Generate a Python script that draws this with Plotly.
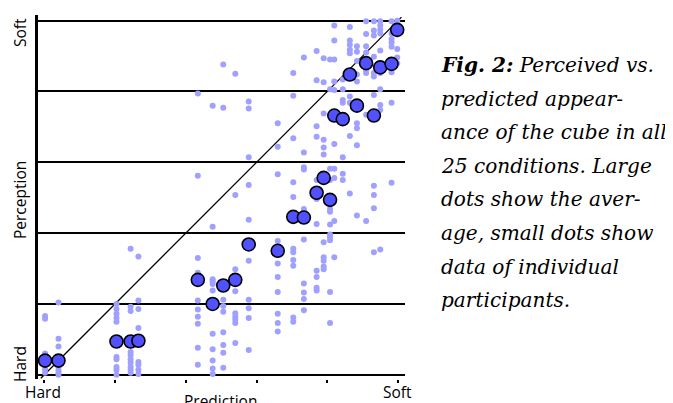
import plotly.graph_objects as go

# Predicted appearance (x) of each of the 25 conditions, 0 = Hard, 5 = Soft
prediction = [0.01, 0.20, 1.02, 1.22, 1.33, 2.17, 2.38, 2.53, 2.70, 2.89,
              3.30, 3.52, 3.67, 3.85, 3.95, 4.04, 4.10, 4.22, 4.32, 4.42,
              4.55, 4.66, 4.75, 4.91, 4.99]

# Average perceived appearance per condition
perception_mean = [0.20, 0.20, 0.47, 0.47, 0.48, 1.34, 1.00, 1.26, 1.34, 1.84,
                   1.75, 2.23, 2.22, 2.57, 2.78, 2.47, 3.66, 3.61, 4.24, 3.80,
                   4.40, 3.66, 4.34, 4.39, 4.87]

# Individual participants' perceived appearance per condition
individual = [
    [0.83, 0.79, 0.30, 0.08, 0.03],
    [1.02, 0.51, 0.40, 0.17, 0.11, 0.06, 0.03, 0.00],
    [1.00, 0.93, 0.86, 0.80, 0.75, 0.25, 0.22, 0.11, 0.07, 0.00],
    [1.78, 0.96, 0.90, 0.32, 0.28, 0.22, 0.17, 0.11, 0.07, 0.03],
    [1.67, 1.05, 0.93, 0.66, 0.18, 0.14, 0.07, 0.01],
    [3.97, 2.81, 1.65, 1.44, 1.05, 0.92, 0.82, 0.72, 0.38, 0.14],
    [3.80, 2.09, 1.35, 1.32, 1.28, 1.19, 0.58, 0.36, 0.20, 0.09, 0.01],
    [4.38, 3.77, 1.06, 0.97, 0.89, 0.60, 0.42, 0.31, 0.10],
    [4.25, 2.54, 1.49, 1.18, 0.87, 0.82, 0.78, 0.73, 0.45],
    [3.86, 3.76, 3.07, 2.68, 2.19, 1.61, 1.06, 0.94, 0.80, 0.35],
    [3.55, 3.22, 2.83, 1.89, 1.57, 1.38, 1.17, 0.86, 0.73, 0.61],
    [4.26, 3.94, 3.34, 2.72, 2.51, 1.78, 1.73, 1.62, 1.54, 0.81, 0.75],
    [4.48, 3.14, 2.93, 2.90, 2.34, 2.30, 1.91, 1.29, 1.16, 1.07, 0.91],
    [4.57, 4.16, 3.51, 3.36, 2.75, 2.48, 2.13, 1.47, 1.38, 1.23, 1.19],
    [4.47, 4.13, 3.69, 3.32, 3.21, 3.11, 1.87, 1.66, 1.61, 1.53, 1.49],
    [4.45, 4.03, 2.91, 2.75, 2.34, 2.30, 2.12, 1.98, 1.94, 1.90, 1.17, 0.73],
    [4.93, 4.72, 4.45, 4.14, 4.02, 3.26, 2.91, 2.78, 2.17, 1.66],
    [4.17, 4.03, 3.88, 3.84, 3.07, 2.84, 2.75],
    [4.91, 4.72, 4.66, 4.59, 4.54, 3.93, 3.84, 3.37, 2.56],
    [4.64, 4.56, 4.43, 4.24, 4.14, 3.55, 3.48, 3.24, 2.25],
    [4.99, 4.81, 4.64, 4.55, 4.30, 4.26, 3.67, 2.17],
    [4.99, 4.86, 4.79, 4.49, 4.26, 4.21, 3.95, 2.67, 2.54, 2.35, 1.73],
    [4.99, 4.93, 4.87, 4.82, 4.58, 4.30, 4.26, 4.03, 3.81, 3.74, 1.77],
    [4.99, 4.82, 4.74, 4.69, 4.63, 4.27, 3.84, 2.71],
    [5.00, 4.60, 4.48, 4.40],
]

diagonal = [-0.05, 5.05]
grid_levels = [0, 1, 2, 3, 4, 5]

caption_lines = [
    "<b><i>Fig. 2:</i></b><i> Perceived vs.</i>",
    "<i>predicted appear-</i>",
    "<i>ance of the cube in all</i>",
    "<i>25 conditions. Large</i>",
    "<i>dots show the aver-</i>",
    "<i>age, small dots show</i>",
    "<i>data of individual</i>",
    "<i>participants.</i>",
]

ind_x, ind_y = [], []
for xv, ys in zip(prediction, individual):
    for yv in ys:
        ind_x.append(xv)
        ind_y.append(yv)

fig = go.Figure()
fig.add_trace(go.Scatter(x=diagonal, y=diagonal, mode="lines",
                         line=dict(color="black", width=1.3),
                         hoverinfo="skip", showlegend=False))
fig.add_trace(go.Scatter(x=ind_x, y=ind_y, mode="markers",
                         marker=dict(color="#a0a0ff", size=6),
                         showlegend=False))
fig.add_trace(go.Scatter(x=prediction, y=perception_mean, mode="markers",
                         marker=dict(color="#5151ff", size=13,
                                     line=dict(color="black", width=1.6)),
                         showlegend=False))

# the page places the figure 8 px in from the window's corner
OFF = 8
W, H = 673 - OFF, 403 - OFF
L, T = 38 - OFF, 15 - OFF
R = W - (405 - OFF)
B = H - (379 - OFF)

fig.update_layout(
    width=W, height=H,
    margin=dict(l=L, r=R, t=T, b=B),
    paper_bgcolor="white", plot_bgcolor="white",
    xaxis=dict(range=[-0.09, 5.1], showgrid=False, zeroline=False,
               showline=False, tickvals=grid_levels, ticks="outside",
               ticklen=3, tickwidth=2, tickcolor="black",
               showticklabels=False, fixedrange=True),
    yaxis=dict(range=[-0.06, 5.08], showgrid=True, gridcolor="black",
               gridwidth=1.5, zeroline=False, showline=True,
               linecolor="black", linewidth=3, tickvals=grid_levels,
               ticks="inside", ticklen=3, tickwidth=2, tickcolor="black",
               showticklabels=False, fixedrange=True),
    font=dict(family="Open Sans", color="black", size=15),
)

pw, ph = W - L - R, H - T - B


def ax_x(p):
    # window pixel -> plot-area fraction
    return (p - OFF - L) / pw


def ax_y(p):
    return ((H - (p - OFF)) - B) / ph


ann = []
ann.append(dict(text="Soft", x=ax_x(20), y=ax_y(33), textangle=-90))
ann.append(dict(text="Perception", x=ax_x(20), y=ax_y(200), textangle=-90))
ann.append(dict(text="Hard", x=ax_x(20), y=ax_y(364), textangle=-90))
ann.append(dict(text="Hard", x=ax_x(43), y=ax_y(392)))
ann.append(dict(text="Prediction", x=ax_x(220), y=ax_y(401)))
ann.append(dict(text="Soft", x=ax_x(397), y=ax_y(392)))
for a in ann:
    a.update(xref="paper", yref="paper", showarrow=False,
             xanchor="center", yanchor="middle", borderpad=0,
             font=dict(family="Open Sans", size=15.5, color="black"))

cap_y0, cap_dy = 65, 33.6
for i, line in enumerate(caption_lines):
    ann.append(dict(text=line, xref="paper", yref="paper",
                    x=ax_x(440), y=ax_y(cap_y0 + i * cap_dy),
                    xanchor="left", yanchor="middle", showarrow=False,
                    borderpad=0,
                    font=dict(family="DejaVu Serif", size=20.1,
                              color="black")))

fig.update_layout(annotations=ann)
fig.write_html("out.html")
